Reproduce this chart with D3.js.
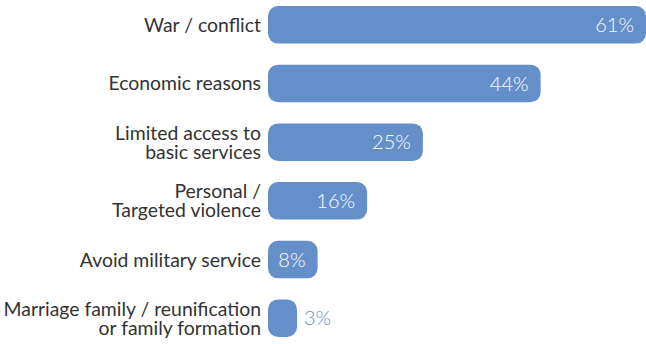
<!DOCTYPE html>
<html>
<head>
<meta charset="utf-8">
<script src="https://cdn.jsdelivr.net/npm/d3@7"></script>
<style>
  body { margin: 0; background: #fff; }
  svg text { font-family: Lato, "Open Sans", sans-serif; }
</style>
</head>
<body>
<div id="chart"></div>
<script>
// categories, each one split into its printed lines
const categories = [
  ["War / conflict"],
  ["Economic reasons"],
  ["Limited access to", "basic services"],
  ["Personal /", "Targeted violence"],
  ["Avoid military service"],
  ["Marriage family / reunification", "or family formation"]
]
const values = [61, 44, 25, 16, 8, 3]

const width = 646
const height = 344
const barColor = "#658fc8"
const textColor = "#333333"
const left = 268
const radius = 10
const lineHeight = 19

const svg = d3.select("#chart")
  .append("svg")
  .attr("width", width)
  .attr("height", height)

const yScale = d3.scaleBand()
  .domain(d3.range(values.length))
  .range([6, 337])
  .paddingInner(0.36)
  .paddingOuter(0)

const xScale = d3.scaleLinear()
  .domain([0, 61])
  .range([0, 378])

// very small bars keep a minimum width so the rounded ends still show
const barWidth = v => Math.max(xScale(v), 3 * radius - 1)

const rows = svg.append("g")
  .selectAll("g")
  .data(values)
  .enter().append("g")
  .attr("transform", (d, i) => "translate(0," + yScale(i) + ")")

rows.append("rect")
  .attr("x", left)
  .attr("y", 0)
  .attr("width", d => barWidth(d))
  .attr("height", yScale.bandwidth())
  .attr("rx", radius)
  .attr("ry", radius)
  .attr("fill", barColor)

// value labels: inside the bar in white, outside when the bar is too short
rows.append("text")
  .attr("x", d => xScale(d) > 40 ? left + barWidth(d) - 12 : left + barWidth(d) + 7)
  .attr("y", yScale.bandwidth() / 2)
  .attr("dy", "0.36em")
  .attr("text-anchor", d => xScale(d) > 40 ? "end" : "start")
  .attr("fill", d => xScale(d) > 40 ? "#fff" : barColor)
  .style("font-size", "20px")
  .style("font-weight", 300)
  .text(d => d + "%")

// category labels, right aligned against the bars
const labels = svg.append("g")
  .selectAll("text")
  .data(categories)
  .enter().append("text")
  .attr("text-anchor", "end")
  .attr("fill", textColor)
  .style("font-size", "19.4px")
  .attr("y", (d, i) => yScale(i) + yScale.bandwidth() / 2 - (d.length - 1) * lineHeight / 2)

labels.selectAll("tspan")
  .data(d => d)
  .enter().append("tspan")
  .attr("x", left - 7)
  .attr("dy", (d, i) => i === 0 ? "0.36em" : lineHeight)
  .text(d => d)
</script>
</body>
</html>
